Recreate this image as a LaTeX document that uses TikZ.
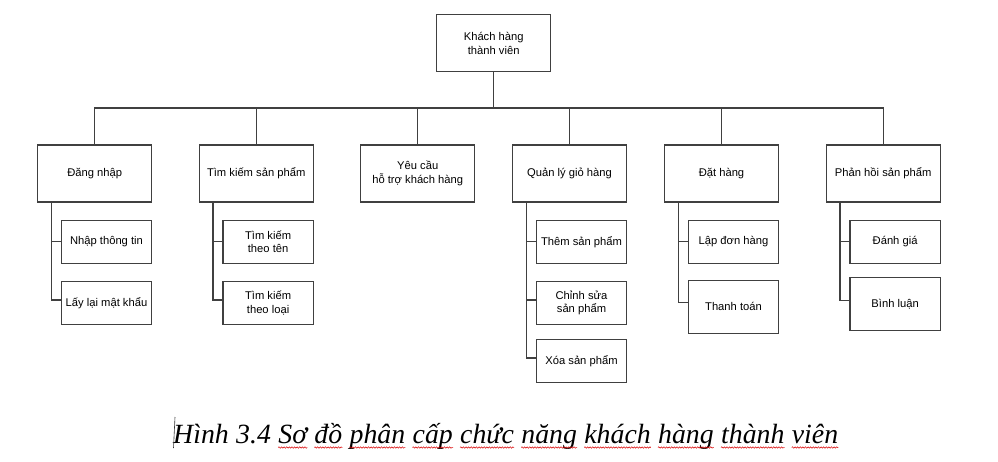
\documentclass[tikz,border=0pt]{standalone}
\usepackage{fontspec}
\setmainfont{Liberation Sans}
\newfontfamily\capfont{Liberation Serif}
\usetikzlibrary{decorations.pathmorphing}
\tikzset{
  frame/.style={draw=black!75, line width=1.2pt, align=center, inner sep=1pt,
    font=\fontsize{11.2}{13.5}\selectfont, text=black},
  topbox/.style={frame, minimum width=114pt, minimum height=57pt},
  subbox/.style={frame, minimum width=90.4pt, minimum height=43pt},
  tallbox/.style={frame, minimum width=90.4pt, minimum height=53pt},
  link/.style={draw=black!75, line width=1.2pt},
  word/.style={inner sep=0pt, anchor=base west, font=\capfont\itshape\fontsize{27.8}{32}\selectfont},
  squig/.style={draw=red!85!black, line width=0.5pt, decorate,
    decoration={snake, amplitude=0.7pt, segment length=2.6pt}}
}
\begin{document}
\begin{tikzpicture}[x=1pt,y=-1pt]
\useasboundingbox (0,0) rectangle (998,462);
% root
\node[topbox] (root) at (493.7,43.3) {Khách hàng\\thành viên};
% level 1
\node[topbox] (n1) at (94.7,173.5) {Đăng nhập};
\node[topbox] (n2) at (256.2,173.5) {Tìm kiếm sản phẩm};
\node[topbox] (n3) at (417.7,173.5) {Yêu cầu\\hỗ trợ khách hàng};
\node[topbox] (n4) at (569.5,173.5) {Quản lý giỏ hàng};
\node[topbox] (n5) at (721.5,173.5) {Đặt hàng};
\node[topbox] (n6) at (883.2,173.5) {Phản hồi sản phẩm};
% bus
\coordinate (busy) at (0,108);
\draw[link] (root.south) -- (root.south |- busy);
\draw[link] (n1.north) -- (n1.north |- busy) -- (n6.north |- busy) -- (n6.north);
\foreach \n in {n2,n3,n4,n5} \draw[link] (\n.north) -- (\n.north |- busy);
% children
\node[subbox] (c11) at (106.5,241.8) {Nhập thông tin};
\node[subbox] (c12) at (106.5,303) {Lấy lại mật khẩu};
\node[subbox] (c21) at (268.1,241.8) {Tìm kiếm\\theo tên};
\node[subbox] (c22) at (268.1,303) {Tìm kiếm\\theo loại};
\node[subbox] (c41) at (581.5,241.8) {Thêm sản phẩm};
\node[subbox] (c42) at (581.5,303) {Chỉnh sửa\\sản phẩm};
\node[subbox] (c43) at (581.5,361) {Xóa sản phẩm};
\node[subbox] (c51) at (733.5,241.8) {Lập đơn hàng};
\node[tallbox] (c52) at (733.5,306.8) {Thanh toán};
\node[subbox] (c61) at (895.1,241.8) {Đánh giá};
\node[tallbox] (c62) at (895.1,304.3) {Bình luận};
% spines
\draw[link] ([xshift=14.3pt]n1.south west) |- ([yshift=3pt]c12.west);
\draw[link] ([xshift=14.3pt]n1.south west) |- (c11.west);
\draw[link] ([xshift=14.3pt]n2.south west) |- ([yshift=3pt]c22.west);
\draw[link] ([xshift=14.3pt]n2.south west) |- (c21.west);
\draw[link] ([xshift=14.5pt]n4.south west) |- ([yshift=3pt]c43.west);
\draw[link] ([xshift=14.5pt]n4.south west) |- ([yshift=3pt]c42.west);
\draw[link] ([xshift=14.5pt]n4.south west) |- (c41.west);
\draw[link] ([xshift=14.3pt]n5.south west) |- ([yshift=4pt]c52.west);
\draw[link] ([xshift=14.3pt]n5.south west) |- (c51.west);
\draw[link] ([xshift=14.3pt]n6.south west) |- ([yshift=4pt]c62.west);
\draw[link] ([xshift=14.3pt]n6.south west) |- (c61.west);
% caption
\node[word] (w1) at (173,443) {Hình};
\node[word] (w2) at ([xshift=7pt]w1.base east) {3.4};
\node[word] (w3) at ([xshift=7pt]w2.base east) {Sơ};
\node[word] (w4) at ([xshift=7pt]w3.base east) {đồ};
\node[word] (w5) at ([xshift=7pt]w4.base east) {phân};
\node[word] (w6) at ([xshift=7pt]w5.base east) {cấp};
\node[word] (w7) at ([xshift=7pt]w6.base east) {chức};
\node[word] (w8) at ([xshift=7pt]w7.base east) {năng};
\node[word] (w9) at ([xshift=7pt]w8.base east) {khách};
\node[word] (w10) at ([xshift=7pt]w9.base east) {hàng};
\node[word] (w11) at ([xshift=7pt]w10.base east) {thành};
\node[word] (w12) at ([xshift=7pt]w11.base east) {viên};
\foreach \w in {w3,w4,w5,w6,w7,w8,w9,w10,w11,w12}
  \draw[squig] ([yshift=-4.5pt]\w.base west) -- ([yshift=-4.5pt]\w.base east);
% text cursor
\coordinate (cur) at (175,417);
\draw[black!80, line width=0.6pt] (cur) -- ++(-1.5,31);
\end{tikzpicture}
\end{document}
